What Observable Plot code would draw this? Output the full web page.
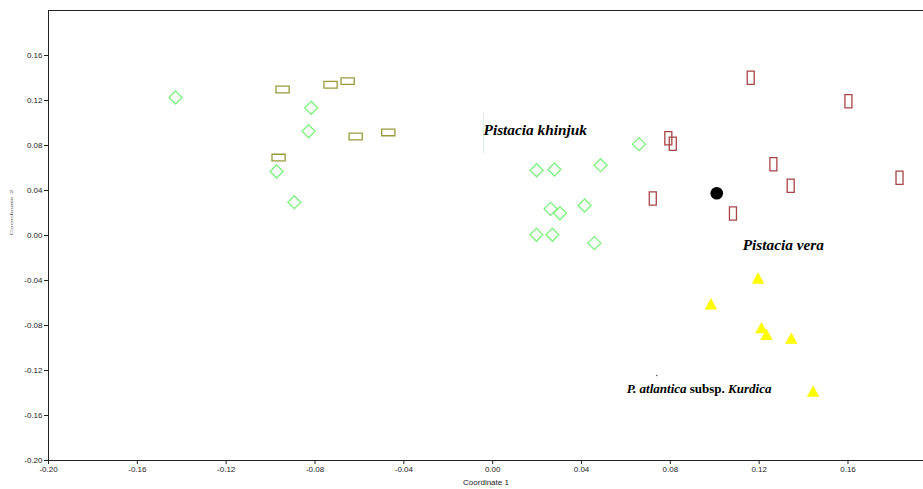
<!DOCTYPE html>
<html>
<head>
<meta charset="utf-8">
<script src="https://cdn.jsdelivr.net/npm/d3@7"></script>
<script src="https://cdn.jsdelivr.net/npm/@observablehq/plot@0.6"></script>
<style>
  html, body { margin: 0; padding: 0; background: #fff; }
  #chart svg { display: block; }
</style>
</head>
<body>
<div id="chart"></div>
<script>
// ---- Data ----
// Pistacia khinjuk group 1 (open green diamonds)
const diamondX = [-0.1428, -0.0817, -0.0829, -0.0973, -0.0893, 0.0659, 0.0198, 0.0278, 0.0486, 0.0261, 0.0303, 0.0414, 0.0197, 0.0269, 0.0458];
const diamondY = [0.1227, 0.1135, 0.0927, 0.0569, 0.0296, 0.0812, 0.0580, 0.0587, 0.0625, 0.0237, 0.0198, 0.0267, 0.0006, 0.0006, -0.0068];
// olive horizontal rectangles
const oliveX = [-0.0946, -0.0730, -0.0653, -0.0617, -0.0470, -0.0964];
const oliveY = [0.1298, 0.1340, 0.1372, 0.0880, 0.0916, 0.0693];
// Pistacia vera (brown vertical rectangles)
const brownX = [0.1162, 0.1602, 0.0791, 0.0811, 0.1264, 0.1342, 0.1832, 0.0721, 0.1082];
const brownY = [0.1402, 0.1194, 0.0865, 0.0815, 0.0634, 0.0442, 0.0513, 0.0329, 0.0196];
// black filled circle
const blackX = [0.1009];
const blackY = [0.0376];
// P. atlantica subsp. Kurdica (yellow triangles)
const triX = [0.1195, 0.0983, 0.1210, 0.1233, 0.1345, 0.1443];
const triY = [-0.0379, -0.0607, -0.0820, -0.0880, -0.0913, -0.1384];

// tick values
const xTicks = [-0.20, -0.16, -0.12, -0.08, -0.04, 0, 0.04, 0.08, 0.12, 0.16];
const yTicks = [-0.20, -0.16, -0.12, -0.08, -0.04, 0, 0.04, 0.08, 0.12, 0.16];

// annotation texts and their data positions
const speciesLabels = ["Pistacia khinjuk", "Pistacia vera"];
const speciesX = [-0.0041, 0.1126];
const speciesY = [0.0933, -0.0089];
const atlanticaParts = ["P. atlantica", " subsp. ", "Kurdica"];
const atlanticaItalic = [true, false, true];
const atlanticaX = [0.0604];
const atlanticaY = [-0.1360];

// ---- build tables ----
const pts = (xs, ys) => xs.map((x, i) => ({x, y: ys[i]}));
const diamonds = pts(diamondX, diamondY);
const olives = pts(oliveX, oliveY);
const browns = pts(brownX, brownY);
const blacks = pts(blackX, blackY);
const tris = pts(triX, triY);
const species = speciesLabels.map((t, i) => ({t, x: speciesX[i], y: speciesY[i]}));
const atlantica = [{t: atlanticaParts.join(""), x: atlanticaX[0], y: atlanticaY[0]}];

// ---- custom symbols ----
const diamondSym = {draw(c) { const r = 6.5; c.moveTo(0, -r); c.lineTo(r, 0); c.lineTo(0, r); c.lineTo(-r, 0); c.closePath(); }};
const hRectSym = {draw(c) { const w = 6.6, h = 3.3; c.moveTo(-w, -h); c.lineTo(w, -h); c.lineTo(w, h); c.lineTo(-w, h); c.closePath(); }};
const vRectSym = {draw(c) { const w = 3.5, h = 6.6; c.moveTo(-w, -h); c.lineTo(w, -h); c.lineTo(w, h); c.lineTo(-w, h); c.closePath(); }};
const triSym = {draw(c) { c.moveTo(0, -5.8); c.lineTo(6.2, 5.6); c.lineTo(-6.2, 5.6); c.closePath(); }};

const fmt = d => d.toFixed(2);
const serif = "'Liberation Serif', 'Times New Roman', serif";

const chart = Plot.plot({
  width: 923,
  height: 489,
  marginLeft: 48,
  marginRight: 0,
  marginTop: 10,
  marginBottom: 29,
  style: {fontFamily: "'Liberation Sans', Arial, sans-serif", fontSize: "8px", color: "#222", background: "#fff"},
  x: {domain: [-0.2, 0.194]},
  y: {domain: [-0.2, 0.2]},
  marks: [
    Plot.axisX({ticks: xTicks, tickFormat: fmt, tickSize: 4, tickPadding: 2, fontSize: 8, label: null, stroke: "#222"}),
    Plot.axisY({ticks: yTicks, tickFormat: fmt, tickSize: 4, tickPadding: 2, fontSize: 8, label: null, stroke: "#222"}),
    Plot.ruleX([-0.2], {stroke: "#222", strokeWidth: 1}),
    Plot.ruleY([-0.2], {stroke: "#222", strokeWidth: 1}),
    Plot.ruleY([0.2], {stroke: "#222", strokeWidth: 1}),
    Plot.ruleX([-0.0041], {y1: 0.1084, y2: 0.0729, stroke: "#dcefdc", strokeWidth: 1}),
    Plot.dot([{x: 0.0739, y: -0.1244}], {x: "x", y: "y", r: 0.8, fill: "#555"}),
    Plot.dot(diamonds, {x: "x", y: "y", symbol: diamondSym, r: 6, fill: "none", stroke: "#7df27d", strokeWidth: 1.3}),
    Plot.dot(olives, {x: "x", y: "y", symbol: hRectSym, r: 6, fill: "none", stroke: "#9a9a3a", strokeWidth: 1.3}),
    Plot.dot(browns, {x: "x", y: "y", symbol: vRectSym, r: 6, fill: "none", stroke: "#a84444", strokeWidth: 1.3}),
    Plot.dot(blacks, {x: "x", y: "y", r: 6.3, fill: "#000", stroke: "none"}),
    Plot.dot(tris, {x: "x", y: "y", symbol: triSym, r: 6, fill: "#ffff00", stroke: "none"}),
    Plot.text(species, {x: "x", y: "y", text: "t", fontSize: 15.3, textAnchor: "start", fontFamily: serif, fontWeight: "bold", fontStyle: "italic", fill: "#000"}),
    Plot.text(atlantica, {x: "x", y: "y", text: "t", fontSize: 13, textAnchor: "start", fontFamily: serif, fontWeight: "bold", fill: "#000", className: "atl"}),
    Plot.text(["Coordinate 1"], {frameAnchor: "bottom", dy: 24, fontSize: 8, fill: "#222"}),
    Plot.text(["Coordinate 2"], {frameAnchor: "left", dx: -37, rotate: -90, fontSize: 3.5, fill: "#555", className: "ylab"})
  ]
});
document.getElementById("chart").appendChild(chart);
const yl = chart.querySelector(".ylab text");
if (yl) { yl.setAttribute("textLength", "46"); yl.setAttribute("lengthAdjust", "spacingAndGlyphs"); }
const at = chart.querySelector(".atl text");
if (at) {
  at.textContent = "";
  at.setAttribute("xml:space", "preserve");
  at.style.whiteSpace = "pre";
  atlanticaParts.forEach((p, i) => {
    const ts = document.createElementNS("http://www.w3.org/2000/svg", "tspan");
    ts.textContent = p;
    if (atlanticaItalic[i]) ts.setAttribute("font-style", "italic");
    at.appendChild(ts);
  });
}
</script>
</body>
</html>
